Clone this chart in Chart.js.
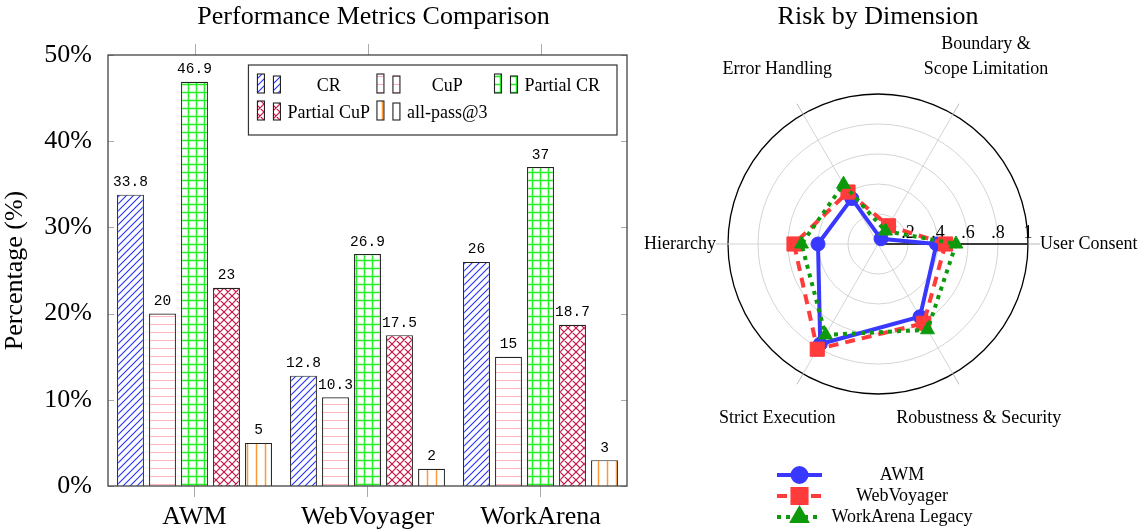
<!DOCTYPE html>
<html>
<head>
<meta charset="utf-8">
<script src="https://cdn.jsdelivr.net/npm/chart.js@4.4.0/dist/chart.umd.min.js"></script>
<style>
  html, body { margin: 0; padding: 0; background: #fff; }
  #wrap { position: relative; width: 1147px; height: 531px; }
  #barBox { position: absolute; left: 0; top: 0; width: 640px; height: 531px; }
  #radarBox { position: absolute; left: 640px; top: 0; width: 507px; height: 531px; }
</style>
</head>
<body>
<div id="wrap">
  <div id="barBox"><canvas id="bars"></canvas></div>
  <div id="radarBox"><canvas id="radar"></canvas></div>
</div>
<script>
// bar chart data
const groups = ['AWM', 'WebVoyager', 'WorkArena'];
const barSeries = ['CR', 'CuP', 'Partial CR', 'Partial CuP', 'all-pass@3'];
const crValues = [33.8, 12.8, 26];
const cupValues = [20, 10.3, 15];
const partialCrValues = [46.9, 26.9, 37];
const partialCupValues = [23, 17.5, 18.7];
const allPassValues = [5, 2, 3];

// radar data, clockwise starting from the right
const dimensions = ['User Consent', 'Robustness & Security', 'Strict Execution', 'Hierarchy', 'Error Handling', ['Boundary &', 'Scope Limitation']];
const radarSeries = ['AWM', 'WebVoyager', 'WorkArena Legacy'];
const awmRisk = [0.39, 0.56, 0.77, 0.40, 0.35, 0.04];
const webVoyagerRisk = [0.45, 0.61, 0.81, 0.56, 0.40, 0.14];
const workArenaRisk = [0.52, 0.66, 0.70, 0.51, 0.46, 0.10];
const ringLabels = ['.2', '.4', '.6', '.8', '1'];

const SERIF = '"Liberation Serif", serif';

function pattern(kind, color, size, lw) {
  const c = document.createElement('canvas');
  c.width = size; c.height = size;
  const g = c.getContext('2d');
  g.fillStyle = '#fff';
  g.fillRect(0, 0, size, size);
  g.strokeStyle = color;
  g.lineWidth = lw;
  g.beginPath();
  if (kind === 'ne' || kind === 'cross') {
    g.moveTo(-1, size + 1); g.lineTo(size + 1, -1);
    g.moveTo(-1, 1); g.lineTo(1, -1);
    g.moveTo(size - 1, size + 1); g.lineTo(size + 1, size - 1);
  }
  if (kind === 'cross') {
    g.moveTo(-1, -1); g.lineTo(size + 1, size + 1);
    g.moveTo(size - 1, -1); g.lineTo(size + 1, 1);
    g.moveTo(-1, size - 1); g.lineTo(1, size + 1);
  }
  const mid = Math.floor(size / 2) + 0.5;
  if (kind === 'h' || kind === 'grid') { g.moveTo(0, mid); g.lineTo(size, mid); }
  if (kind === 'v' || kind === 'grid') { g.moveTo(mid, 0); g.lineTo(mid, size); }
  g.stroke();
  return g.createPattern(c, 'repeat');
}

const barFills = [
  pattern('ne', '#2233ff', 7, 1.1),
  pattern('h', '#ffb3bb', 8, 1),
  pattern('grid', '#22ee22', 8, 1.5),
  pattern('cross', '#cc1144', 8, 1.2),
  pattern('v', '#ff9933', 9, 1.5)
];
const barValues = [crValues, cupValues, partialCrValues, partialCupValues, allPassValues];

const barDecor = {
  id: 'barDecor',
  afterDatasetsDraw(chart) {
    const ctx = chart.ctx;
    ctx.save();
    ctx.font = '14.5px "Liberation Mono", monospace';
    ctx.fillStyle = '#000';
    ctx.textAlign = 'center';
    ctx.textBaseline = 'bottom';
    chart.data.datasets.forEach((ds, di) => {
      chart.getDatasetMeta(di).data.forEach((bar, i) => {
        ctx.fillText(String(ds.data[i]), bar.x, bar.y - 5);
      });
    });
    ctx.restore();
  },
  afterDraw(chart) {
    const ctx = chart.ctx, a = chart.chartArea;
    const ys = chart.scales.y, xs = chart.scales.x;
    ctx.save();
    // ticks
    ctx.strokeStyle = '#aaa';
    ctx.lineWidth = 1;
    ctx.beginPath();
    ys.ticks.forEach(t => {
      const y = Math.round(ys.getPixelForValue(t.value)) + 0.5;
      ctx.moveTo(a.left, y); ctx.lineTo(a.left + 6, y);
      ctx.moveTo(a.right, y); ctx.lineTo(a.right - 6, y);
    });
    groups.forEach((g, i) => {
      const x = Math.round(xs.getPixelForValue(i)) + 0.5;
      ctx.moveTo(x, a.top); ctx.lineTo(x, a.top - 11);
    });
    ctx.stroke();
    // frame
    ctx.strokeStyle = '#444';
    ctx.lineWidth = 1.3;
    ctx.strokeRect(a.left, a.top, a.right - a.left, a.bottom - a.top);
    // title
    ctx.fillStyle = '#000';
    ctx.font = '26px ' + SERIF;
    ctx.textAlign = 'center';
    ctx.textBaseline = 'middle';
    ctx.fillText('Performance Metrics Comparison', (a.left + a.right) / 2 + 6, 17);
    // legend
    ctx.font = '18px ' + SERIF;
    const items = chart.data.datasets;
    const cols = 3;
    const colW = [];
    for (let c = 0; c < cols; c++) {
      let w = 0;
      for (let i = c; i < items.length; i += cols) w = Math.max(w, ctx.measureText(items[i].label).width);
      colW.push(w);
    }
    let total = 9;
    colW.forEach(w => { total += 30 + w + 7; });
    total += 10;
    const bx = a.right - 10 - total, by = a.top + 10, bh = 70;
    ctx.fillStyle = '#fff';
    ctx.fillRect(bx, by, total, bh);
    ctx.strokeStyle = '#333';
    ctx.lineWidth = 1.2;
    ctx.strokeRect(bx, by, total, bh);
    items.forEach((ds, i) => {
      const c = i % cols, r = Math.floor(i / cols);
      let x = bx + 9;
      for (let k = 0; k < c; k++) x += 30 + colW[k] + 7;
      const y = by + 21 + r * 27;
      ctx.fillStyle = ds.backgroundColor;
      ctx.strokeStyle = '#222';
      ctx.lineWidth = 1.1;
      ctx.fillRect(x, y - 12, 7, 19); ctx.strokeRect(x, y - 12, 7, 19);
      ctx.fillRect(x + 16, y - 10, 7, 17); ctx.strokeRect(x + 16, y - 10, 7, 17);
      ctx.fillStyle = '#000';
      ctx.textAlign = 'center';
      ctx.fillText(ds.label, x + 30 + colW[c] / 2, y);
    });
    ctx.restore();
  }
};

new Chart(document.getElementById('bars'), {
  type: 'bar',
  data: {
    labels: groups,
    datasets: barSeries.map((name, i) => ({
      label: name,
      data: barValues[i],
      backgroundColor: barFills[i],
      borderColor: '#222',
      borderWidth: 1.2,
      categoryPercentage: 0.925,
      barPercentage: 0.84
    }))
  },
  options: {
    responsive: true,
    maintainAspectRatio: false,
    animation: false,
    devicePixelRatio: 1,
    layout: { padding: { top: 55, right: 13, left: 0, bottom: 0 } },
    plugins: { legend: { display: false }, title: { display: false }, tooltip: { enabled: false } },
    scales: {
      x: {
        afterFit: s => { s.height = 45; },
        grid: { display: true, drawOnChartArea: false, offset: false, tickLength: 11, color: '#aaa' },
        border: { display: false },
        ticks: { color: '#000', padding: 5, font: { family: SERIF, size: 26 } }
      },
      y: {
        min: 0, max: 50,
        afterFit: s => { s.width = 108; },
        grid: { display: false },
        border: { display: false },
        ticks: { stepSize: 10, color: '#000', padding: 8, font: { family: SERIF, size: 26 }, callback: v => v + '%' },
        title: { display: true, text: 'Percentage (%)', color: '#000', padding: { top: 0, bottom: 0 }, font: { family: SERIF, size: 26 } }
      }
    }
  },
  plugins: [barDecor]
});

// radar
const radarValues = [awmRisk, webVoyagerRisk, workArenaRisk];
const radarStyles = [
  { color: '#3838ff', dash: [], point: 'circle', radius: 7 },
  { color: '#ff3b3b', dash: [10, 7], point: 'rect', radius: 10 },
  { color: '#0c9a0c', dash: [4, 5], point: 'triangle', radius: 8 }
];

function drawMarker(ctx, style, radius, x, y) {
  if (Chart.helpers && Chart.helpers.drawPoint) {
    Chart.helpers.drawPoint(ctx, { pointStyle: style, radius: radius, borderWidth: 1, rotation: 0 }, x, y);
  } else {
    ctx.beginPath(); ctx.arc(x, y, radius, 0, Math.PI * 2); ctx.fill();
  }
}

const radarDecor = {
  id: 'radarDecor',
  beforeDatasetsDraw(chart) {
    const s = chart.scales.r, ctx = chart.ctx;
    const n = chart.data.labels.length;
    ctx.save();
    ctx.strokeStyle = '#bbb';
    ctx.lineWidth = 1;
    ctx.beginPath();
    for (let i = 0; i < n; i++) {
      const p1 = s.getPointPosition(i, s.drawingArea);
      const p2 = s.getPointPosition(i, s.drawingArea + 12);
      ctx.moveTo(p1.x, p1.y); ctx.lineTo(p2.x, p2.y);
    }
    ctx.stroke();
    const end = s.getPointPositionForValue(0, s.max);
    ctx.strokeStyle = '#000';
    ctx.lineWidth = 1.3;
    ctx.beginPath();
    ctx.moveTo(s.xCenter, s.yCenter); ctx.lineTo(end.x, end.y);
    ctx.stroke();
    ctx.fillStyle = '#000';
    ctx.font = '18px ' + SERIF;
    ctx.textAlign = 'center';
    ctx.textBaseline = 'alphabetic';
    s.ticks.slice(1).forEach((t, k) => {
      const p = s.getPointPositionForValue(0, t.value);
      ctx.fillText(ringLabels[k], p.x, p.y - 6);
    });
    ctx.restore();
  },
  afterDraw(chart) {
    const s = chart.scales.r, ctx = chart.ctx;
    ctx.save();
    ctx.fillStyle = '#000';
    ctx.textBaseline = 'middle';
    // title
    ctx.font = '26px ' + SERIF;
    ctx.textAlign = 'center';
    ctx.fillText('Risk by Dimension', s.xCenter, 17);
    // point labels
    ctx.font = '18px ' + SERIF;
    const lh = 25;
    chart.data.labels.forEach((lab, i) => {
      const lines = Array.isArray(lab) ? lab : [lab];
      const ang = s.getIndexAngle(i) - Math.PI / 2;
      const cos = Math.cos(ang), sin = Math.sin(ang);
      let p;
      if (Math.abs(sin) < 0.01) {
        p = s.getPointPosition(i, s.drawingArea + 12);
        ctx.textAlign = cos > 0 ? 'left' : 'right';
      } else {
        const h = lines.length * lh;
        p = s.getPointPosition(i, s.drawingArea + 37 + (h / 2) / Math.abs(sin));
        ctx.textAlign = 'center';
      }
      lines.forEach((t, k) => ctx.fillText(t, p.x, p.y + (k - (lines.length - 1) / 2) * lh));
    });
    // legend
    ctx.font = '18px ' + SERIF;
    const lx = s.xCenter - 101, tx = s.xCenter + 24;
    chart.data.datasets.forEach((ds, i) => {
      const y = s.yCenter + 231 + i * 21;
      ctx.strokeStyle = ds.borderColor;
      ctx.lineWidth = ds.borderWidth;
      ctx.setLineDash(ds.borderDash || []);
      ctx.beginPath();
      ctx.moveTo(lx, y); ctx.lineTo(lx + 45, y);
      ctx.stroke();
      ctx.setLineDash([]);
      ctx.fillStyle = ds.backgroundColor;
      drawMarker(ctx, ds.pointStyle, ds.pointRadius, lx + 22.5, y);
      ctx.fillStyle = '#000';
      ctx.textAlign = 'center';
      ctx.fillText(ds.label, tx, y);
    });
    ctx.restore();
  }
};

new Chart(document.getElementById('radar'), {
  type: 'radar',
  data: {
    labels: dimensions,
    datasets: radarSeries.map((name, i) => ({
      label: name,
      data: radarValues[i],
      borderColor: radarStyles[i].color,
      backgroundColor: radarStyles[i].color,
      pointBackgroundColor: radarStyles[i].color,
      pointBorderColor: radarStyles[i].color,
      borderDash: radarStyles[i].dash,
      borderWidth: 4,
      pointStyle: radarStyles[i].point,
      pointRadius: radarStyles[i].radius,
      pointBorderWidth: 1,
      fill: false,
      tension: 0,
      order: radarSeries.length - i
    }))
  },
  options: {
    responsive: true,
    maintainAspectRatio: false,
    animation: false,
    devicePixelRatio: 1,
    layout: { padding: { left: 88, right: 119, top: 94, bottom: 137 } },
    plugins: { legend: { display: false }, title: { display: false }, tooltip: { enabled: false } },
    scales: {
      r: {
        min: 0, max: 1,
        startAngle: 90,
        ticks: { display: false, stepSize: 0.2 },
        pointLabels: { display: false },
        grid: {
          circular: true,
          color: c => (c.tick && c.tick.value === 1 ? '#000' : '#d4d4d4'),
          lineWidth: c => (c.tick && c.tick.value === 1 ? 1.3 : 1)
        },
        angleLines: { color: '#d4d4d4', lineWidth: 1 }
      }
    }
  },
  plugins: [radarDecor]
});
</script>
</body>
</html>
